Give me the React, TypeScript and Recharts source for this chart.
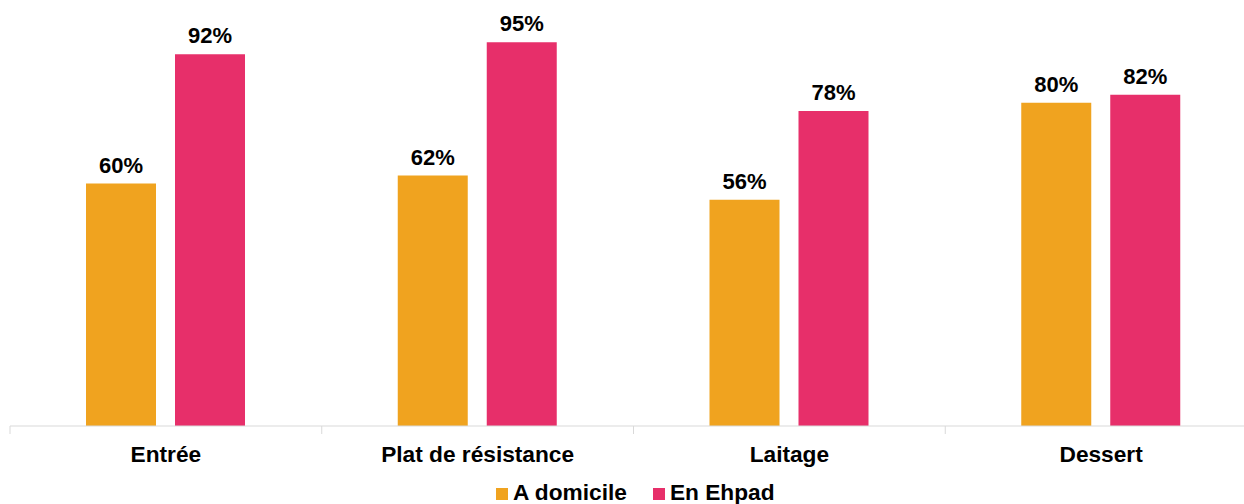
import { BarChart, Bar, XAxis, YAxis, Legend, LabelList } from "recharts";

const categories = ["Entrée", "Plat de résistance", "Laitage", "Dessert"];
const aDomicile = [60, 62, 56, 80];
const enEhpad = [92, 95, 78, 82];

const seriesNames = { home: "A domicile", ehpad: "En Ehpad" };
const colors = { home: "#F0A31F", ehpad: "#E72F6A" };

const data = categories.map((name, i) => ({
  name,
  home: aDomicile[i],
  ehpad: enEhpad[i],
}));

const font = '"Liberation Sans", Arial, sans-serif';
const axisColor = "#D9D9D9";
const TICK_SIZE = 8;
const TICK_MARGIN = 12;

// label under the band, plus a short mark on the band's left edge
function CategoryTick({ x, y, payload }: any) {
  const edge = x - (payload.offset || 0);
  const axisY = y - TICK_SIZE - TICK_MARGIN;
  return (
    <g>
      <line x1={edge} x2={edge} y1={axisY} y2={axisY + TICK_SIZE} stroke={axisColor} />
      <text
        x={x}
        y={y}
        dy="0.71em"
        textAnchor="middle"
        fill="#000"
        fontSize={22.7}
        fontWeight={700}
        fontFamily={font}
      >
        {payload.value}
      </text>
    </g>
  );
}

function LegendContent({ payload }: any) {
  return (
    <div style={{ display: "flex", height: 26, fontFamily: font, fontSize: 22.7, fontWeight: 700, color: "#000", whiteSpace: "nowrap" }}>
      {(payload || []).map((p: any, i: number) => (
        <div key={p.value} style={{ marginLeft: i === 0 ? 0 : 26 }}>
          <span style={{ display: "inline-block", width: 12, height: 12, background: p.color, marginRight: 5 }} />
          {p.value}
        </div>
      ))}
    </div>
  );
}

export default function App() {
  return (
    <div style={{ position: "absolute", left: 0, top: 0, width: 1244, height: 504, overflow: "hidden", background: "#fff" }}>
      <BarChart
        width={1260}
        height={504}
        data={data}
        margin={{ top: 22, left: 10, right: 3, bottom: 6 }}
        barSize={70}
        barGap={19}
      >
        <XAxis
          dataKey="name"
          height={46}
          axisLine={{ stroke: axisColor }}
          tickLine={false}
          tickSize={TICK_SIZE}
          tickMargin={TICK_MARGIN}
          interval={0}
          tick={<CategoryTick />}
        />
        <YAxis hide domain={[0, 100]} />
        <Legend
          content={<LegendContent />}
          wrapperStyle={{ left: 496, top: 479, width: "auto" }}
        />
        <Bar dataKey="home" name={seriesNames.home} fill={colors.home} isAnimationActive={false}>
          <LabelList
            dataKey="home"
            position="top"
            offset={11}
            formatter={(v: any) => `${v}%`}
            style={{ fill: "#000", fontSize: 22, fontWeight: 700, fontFamily: font }}
          />
        </Bar>
        <Bar dataKey="ehpad" name={seriesNames.ehpad} fill={colors.ehpad} isAnimationActive={false}>
          <LabelList
            dataKey="ehpad"
            position="top"
            offset={11}
            formatter={(v: any) => `${v}%`}
            style={{ fill: "#000", fontSize: 22, fontWeight: 700, fontFamily: font }}
          />
        </Bar>
      </BarChart>
    </div>
  );
}
